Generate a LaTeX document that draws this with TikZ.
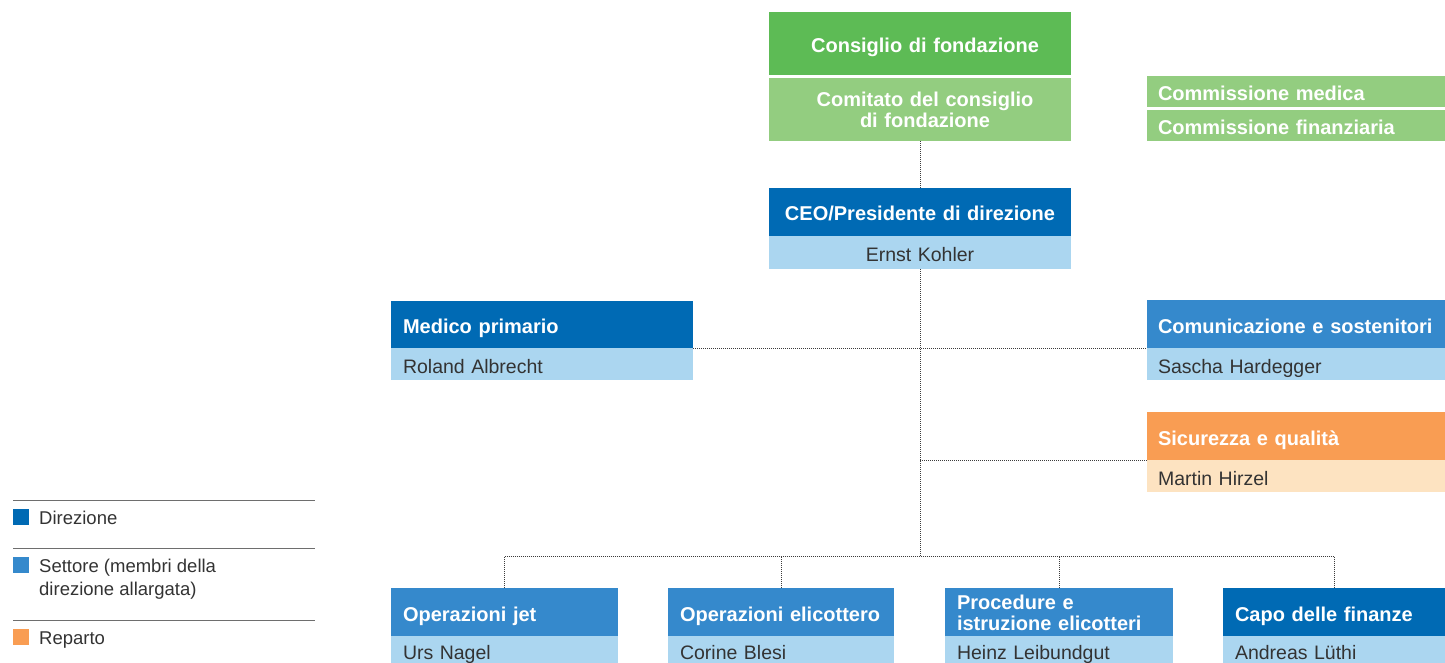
\documentclass[tikz,border=0pt]{standalone}
\usepackage{fontspec}
\setmainfont{Liberation Sans}
\definecolor{cGreenA}{RGB}{93,187,85}
\definecolor{cGreenB}{RGB}{147,205,128}
\definecolor{cDBlue}{RGB}{0,106,180}
\definecolor{cMBlue}{RGB}{53,137,204}
\definecolor{cLBlue}{RGB}{171,214,240}
\definecolor{cOrange}{RGB}{249,157,83}
\definecolor{cPeach}{RGB}{253,227,193}
\definecolor{cText}{RGB}{51,51,51}
\definecolor{cLine}{RGB}{60,60,60}
\definecolor{cRule}{RGB}{110,110,110}
\tikzset{
  boxbase/.style={rectangle, anchor=north west, inner ysep=0pt, inner xsep=12pt, outer sep=0pt},
  oneline/.style={text height=19pt, text depth=1pt},
  hdr/.style={boxbase, oneline, text=white, font=\fontsize{20}{21}\selectfont\bfseries, align=left},
  hdrc/.style={boxbase, oneline, text=white, font=\fontsize{20}{21}\selectfont\bfseries, align=center},
  nam/.style={boxbase, oneline, fill=cLBlue, text=cText, font=\fontsize{19.5}{21}\selectfont, align=left},
  conn/.style={draw=cLine, line width=0.9pt, dash pattern=on 1pt off 1pt},
  legtext/.style={text=cText, font=\fontsize{18.5}{23}\selectfont, inner sep=0pt, align=left},
}
\begin{document}
\begin{tikzpicture}[x=1pt,y=-1pt]
\useasboundingbox (0,0) rectangle (1445,663);

% top boxes
\node[hdrc, fill=cGreenA, text width=278pt, minimum height=63pt] (cons) at (769,12) {\hspace*{10pt}Consiglio di fondazione};
\node[hdrc, fill=cGreenB, text width=278pt, minimum height=63pt, text height=36.6pt] (comi) at (769,78) {\parbox[b]{278pt}{\centering\hspace*{10pt}Comitato del consiglio\\\hspace*{10pt}di fondazione}};
\node[hdr, fill=cGreenB, inner xsep=11pt, text width=276pt, minimum height=31pt] (cmed) at (1147,76) {Commissione medica};
\node[hdr, fill=cGreenB, inner xsep=11pt, text width=276pt, minimum height=31pt] (cfin) at (1147,110) {Commissione finanziaria};

% CEO
\node[hdrc, fill=cDBlue, text width=278pt, minimum height=48pt] (ceoh) at (769,188) {CEO/Presidente di direzione};
\node[nam, align=center, text width=278pt, minimum height=33pt] (ceon) at (769,236) {Ernst Kohler};

% Medico primario
\node[hdr, fill=cDBlue, text width=278pt, minimum height=47pt] (medh) at (391,301) {Medico primario};
\node[nam, text width=278pt, minimum height=32pt] (medn) at (391,348) {Roland Albrecht};

% Comunicazione
\node[hdr, fill=cMBlue, inner xsep=11pt, text width=276pt, minimum height=48pt] (comh) at (1147,300) {Comunicazione e sostenitori};
\node[nam, inner xsep=11pt, text width=276pt, minimum height=32pt] (comn) at (1147,348) {Sascha Hardegger};

% Sicurezza
\node[hdr, fill=cOrange, inner xsep=11pt, text width=276pt, minimum height=48pt] (sich) at (1147,412) {Sicurezza e qualità};
\node[nam, fill=cPeach, inner xsep=11pt, text width=276pt, minimum height=32pt] (sicn) at (1147,460) {Martin Hirzel};

% bottom row
\node[hdr, fill=cMBlue, text width=203pt, minimum height=48pt] (jeth) at (391,588) {Operazioni jet};
\node[nam, text width=203pt, minimum height=27pt, text height=20pt] (jetn) at (391,636) {Urs Nagel};
\node[hdr, fill=cMBlue, text width=202pt, minimum height=48pt] (elih) at (668,588) {Operazioni elicottero};
\node[nam, text width=202pt, minimum height=27pt, text height=20pt] (elin) at (668,636) {Corine Blesi};
\node[hdr, fill=cMBlue, text width=204pt, minimum height=48pt, text height=37pt] (proh) at (945,588) {\parbox[b]{204pt}{Procedure e\\istruzione elicotteri}};
\node[nam, text width=204pt, minimum height=27pt, text height=20pt] (pron) at (945,636) {Heinz Leibundgut};
\node[hdr, fill=cDBlue, text width=198pt, minimum height=48pt] (capoh) at (1223,588) {Capo delle finanze};
\node[nam, text width=198pt, minimum height=27pt, text height=20pt] (capon) at (1223,636) {Andreas Lüthi};

% connectors
\coordinate (bus) at (920,556);
\draw[conn] (comi.south) -- (ceoh.north);
\draw[conn] (ceon.south) -- (bus);
\draw[conn] (medh.south east) -- (comh.south west);
\draw[conn] (sich.south west -| ceon.south) -- (sich.south west);
\draw[conn] (jeth.north) |- (bus) -| (capoh.north);
\draw[conn] (elih.north) -- (elih.north |- bus);
\draw[conn] (proh.north) -- (proh.north |- bus);

% legend
\draw[cRule, line width=1pt] (13,500.5) -- (315,500.5);
\draw[cRule, line width=1pt] (13,548.5) -- (315,548.5);
\draw[cRule, line width=1pt] (13,620.5) -- (315,620.5);
\fill[cDBlue] (13,509) rectangle (29,525);
\fill[cMBlue] (13,557) rectangle (29,573);
\fill[cOrange] (13,629) rectangle (29,645);
\node[legtext, anchor=base west] (lg1) at (39,524) {Direzione};
\node[legtext, anchor=west] (lg2) at (39,579) {Settore (membri della\\direzione allargata)};
\node[legtext, anchor=base west] (lg3) at (39,644) {Reparto};
\end{tikzpicture}
\end{document}
